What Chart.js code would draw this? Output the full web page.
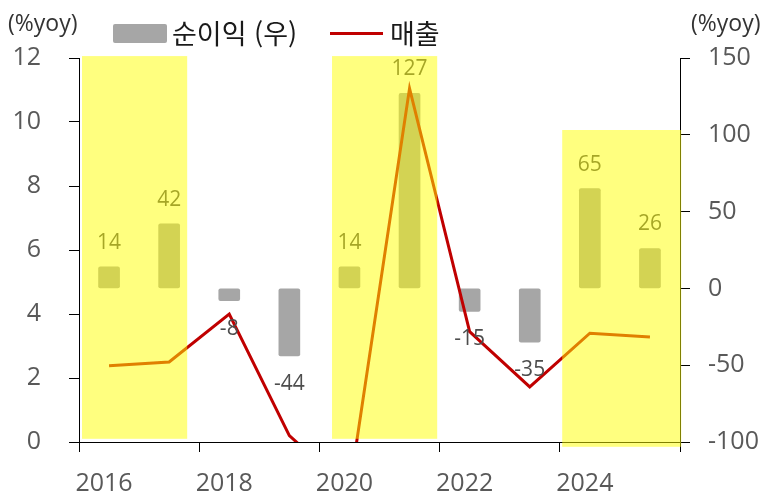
<!DOCTYPE html>
<html lang="ko">
<head>
<meta charset="utf-8">
<script src="https://cdn.jsdelivr.net/npm/chart.js@4.4.1/dist/chart.umd.min.js"></script>
<style>
  body { margin:0; background:#fff; }
  #wrap { position:relative; width:765px; height:493px; }
  #chart { position:absolute; left:0; top:0; }
  .unit { position:absolute; top:10px; font:23px "Open Sans", sans-serif; line-height:24px; color:#333; }
  .legend { position:absolute; top:19px; height:28px; display:flex; align-items:center;
            font:27px "Noto Sans CJK KR", sans-serif; line-height:28px; color:#1a1a1a; }
  .legend .box { width:54px; height:19px; background:#a6a6a6; border-radius:2px; margin-right:5px; }
  .legend .ln { width:53px; height:3px; background:#c00000; margin-right:7px; }
</style>
</head>
<body>
<div id="wrap">
  <canvas id="chart" width="765" height="493"></canvas>
  <div class="unit" style="left:8px">(%yoy)</div>
  <div class="unit" style="left:691px">(%yoy)</div>
  <div class="legend" style="left:113px"><span class="box"></span>순이익 (우)</div>
  <div class="legend" style="left:330px"><span class="ln"></span>매출</div>
</div>
<script>
// —––– Datos ––––
const years   = ['2016','2017','2018','2019','2020','2021','2022','2023','2024','2025'];
const netInc  = [14, 42, -8, -44, 14, 127, -15, -35, 65, 26];          // 순이익 (우), %yoy
const sales   = [2.38, 2.5, 4.0, 0.2, -1.5, 11.05, 3.45, 1.72, 3.4, 3.28]; // 매출, %yoy
const leftTicks  = { min:0, max:12, step:2 };
const rightTicks = { min:-100, max:150, step:50 };

// highlighted periods, in category index / left-axis units
const bands = [
  { x0:-0.45, x1:1.30, y0:0.1,   y1:12.06 },
  { x0:3.71,  x1:5.46, y0:0.1,   y1:12.06 },
  { x0:7.54,  x1:9.52, y0:-0.15, y1:9.75 },
];

const TICK_FONT = { family:'"Open Sans", sans-serif', size:25 };
const GREY = '#595959';

// etiquetas de las barras
const barLabels = {
  id:'barLabels',
  afterDatasetsDraw(chart) {
    const meta = chart.getDatasetMeta(1), ctx = chart.ctx;
    ctx.save();
    ctx.font = '21px "Open Sans", sans-serif';
    ctx.fillStyle = '#4d4d4d';
    ctx.textAlign = 'center'; ctx.textBaseline = 'middle';
    meta.data.forEach((el, i) => {
      const v = netInc[i];
      ctx.fillText(String(v), el.x, v >= 0 ? el.y - 24 : el.y + 28);
    });
    ctx.restore();
  }
};

// bandas amarillas por encima de todo
const highlight = {
  id:'highlight',
  afterDraw(chart) {
    const { ctx, scales:{ x, y } } = chart;
    ctx.save();
    ctx.fillStyle = 'rgba(255,255,0,0.5)';
    bands.forEach(b => {
      const l = x.getPixelForValue(b.x0), r = x.getPixelForValue(b.x1),
            t = y.getPixelForValue(b.y1), btm = y.getPixelForValue(b.y0);
      ctx.fillRect(l, t, r - l, btm - t);
    });
    ctx.restore();
  }
};

new Chart(document.getElementById('chart'), {
  data:{
    labels: years,
    datasets:[
      { type:'line', label:'매출', data:sales, yAxisID:'y', order:1,
        borderColor:'#c00000', borderWidth:3, pointRadius:0, tension:0 },
      { type:'bar', label:'순이익 (우)', data:netInc, yAxisID:'y1', order:2,
        backgroundColor:'#a6a6a6', barThickness:21, borderRadius:2, borderSkipped:false }
    ]
  },
  options:{
    responsive:false, animation:false, devicePixelRatio:1,
    layout:{ padding:{ top:58, left:0, right:0, bottom:0 } },
    plugins:{ legend:{ display:false }, tooltip:{ enabled:false } },
    scales:{
      x:{
        offset:true,
        afterFit: s => { s.height = 51; },
        grid:{ offset:true, drawOnChartArea:false, tickLength:10,
               color: c => (c.index === undefined || c.index % 2 === 0) ? '#000' : 'rgba(0,0,0,0)' },
        border:{ color:'#000', width:1 },
        ticks:{ autoSkip:false, maxRotation:0, padding:17, labelOffset:-5, color:GREY, font:TICK_FONT,
                callback:(v, i) => i % 2 === 0 ? years[i] : '' }
      },
      y:{
        position:'left', min:leftTicks.min, max:leftTicks.max,
        afterFit: s => { s.width = 79; },
        grid:{ drawOnChartArea:false, tickLength:10, color:'#000' },
        border:{ color:'#000', width:1 },
        ticks:{ stepSize:leftTicks.step, padding:28, color:GREY, font:TICK_FONT }
      },
      y1:{
        position:'right', min:rightTicks.min, max:rightTicks.max,
        afterFit: s => { s.width = 85; },
        grid:{ drawOnChartArea:false, tickLength:10, color:'#000' },
        border:{ color:'#000', width:1 },
        ticks:{ stepSize:rightTicks.step, padding:18, color:GREY, font:TICK_FONT }
      }
    }
  },
  plugins:[barLabels, highlight]
});
</script>
</body>
</html>
